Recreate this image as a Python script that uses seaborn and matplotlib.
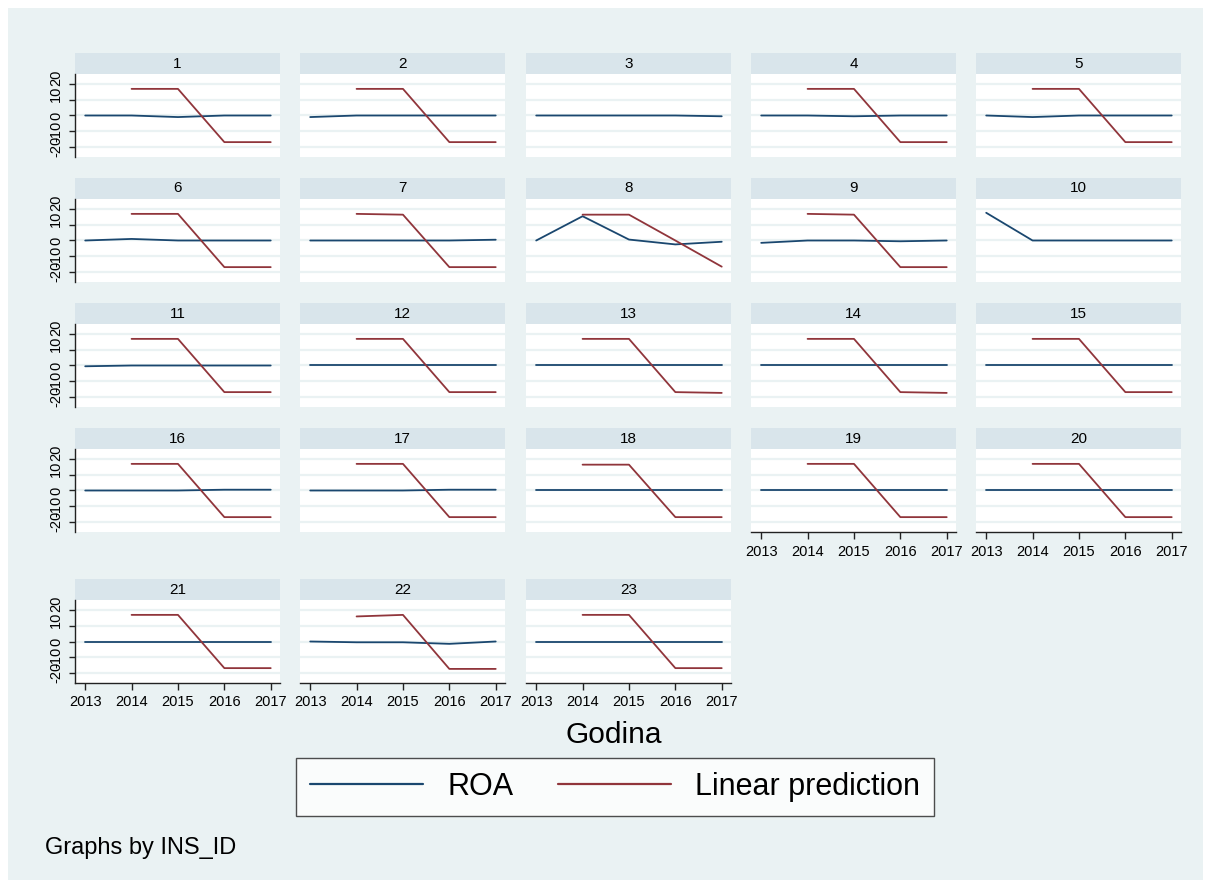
import numpy as np
import pandas as pd
import seaborn as sns
import matplotlib.pyplot as plt
from matplotlib.patches import Rectangle
from matplotlib.lines import Line2D
from matplotlib.transforms import ScaledTranslation

nan = np.nan

# Data
years = [2013, 2014, 2015, 2016, 2017]
ids = list(range(1, 24))

roa = [
    [0, 0, -1, 0, 0],          # 1
    [-1, 0, 0, 0, 0],          # 2
    [0, 0, 0, 0, -0.5],        # 3
    [0, 0, -0.5, 0, 0],        # 4
    [0, -1, 0, 0, 0],          # 5
    [0, 1, 0, 0, 0],           # 6
    [0, 0, 0, 0, 0.5],         # 7
    [0, 15.5, 0.6, -2.5, -0.8],  # 8
    [-1.5, 0, 0, -0.5, 0],     # 9
    [17.7, 0, 0, 0, 0],        # 10
    [-0.5, 0, 0, 0, 0],        # 11
    [0, 0, 0, 0, 0],           # 12
    [0, 0, 0, 0, 0],           # 13
    [0, 0, 0, 0, 0],           # 14
    [0, 0, 0, 0, 0],           # 15
    [0, 0, 0, 0.5, 0.5],       # 16
    [0, 0, 0, 0.5, 0.5],       # 17
    [0, 0, 0, 0, 0],           # 18
    [0, 0, 0, 0, 0],           # 19
    [0, 0, 0, 0, 0],           # 20
    [0, 0, 0, 0, 0],           # 21
    [0, -0.5, -0.5, -1.5, 0],  # 22
    [0, 0, 0, 0, 0],           # 23
]

pred = [
    [nan, 17, 17, -17, -17],     # 1
    [nan, 17, 17, -17, -17],     # 2
    [nan, nan, nan, nan, nan],   # 3
    [nan, 17, 17, -17, -17],     # 4
    [nan, 17, 17, -17, -17],     # 5
    [nan, 17, 17, -17, -17],     # 6
    [nan, 17, 16.5, -17, -17],   # 7
    [nan, 16.5, 16.5, 0, -16.7], # 8
    [nan, 17, 16.5, -17, -17],   # 9
    [nan, nan, nan, nan, nan],   # 10
    [nan, 17, 17, -17, -17],     # 11
    [nan, 17, 17, -17, -17],     # 12
    [nan, 17, 17, -17, -17.5],   # 13
    [nan, 17, 17, -17, -17.5],   # 14
    [nan, 17, 17, -17, -17],     # 15
    [nan, 17, 17, -17, -17],     # 16
    [nan, 17, 17, -17, -17],     # 17
    [nan, 16.5, 16.5, -17, -17], # 18
    [nan, 17, 17, -17, -17],     # 19
    [nan, 17, 17, -17, -17],     # 20
    [nan, 17, 17, -17, -17],     # 21
    [nan, 16, 17, -17.5, -17.5], # 22
    [nan, 17, 17, -17, -17],     # 23
]

series_names = ["ROA", "Linear prediction"]
yticks = [-20, -10, 0, 10, 20]

# Long format table
rows = []
for i, pid in enumerate(ids):
    for j, yr in enumerate(years):
        rows.append((pid, yr, "ROA", roa[i][j]))
        rows.append((pid, yr, "Linear prediction", pred[i][j]))
df = pd.DataFrame(rows, columns=["INS_ID", "Godina", "series", "value"]).dropna()

# Stata s2color look
bg = "#EAF2F3"
strip_col = "#D9E5EB"
palette = {"ROA": "#1A476F", "Linear prediction": "#90353B"}

sns.set_style("white")
plt.rcParams["font.family"] = ["Liberation Sans", "DejaVu Sans"]
plt.rcParams["axes.unicode_minus"] = False
plt.rcParams["text.color"] = "black"
plt.rcParams["xtick.color"] = "black"
plt.rcParams["ytick.color"] = "black"

W, H = 1211, 888
fig = plt.figure(figsize=(W / 100, H / 100), dpi=100, facecolor="white")
fig.patches.append(Rectangle((8 / W, 8 / H), 1 - 16 / W, 1 - 16 / H,
                             transform=fig.transFigure, facecolor=bg,
                             edgecolor="none", zorder=-10))

col_left = [75, 300, 526, 751, 976]
row_strip_top = [53, 178, 303, 428, 579]
pw, ph, sh = 205, 83, 21

for k, pid in enumerate(ids):
    r, c = divmod(k, 5)
    x0 = col_left[c]
    y0 = row_strip_top[r] + sh
    ax = fig.add_axes([x0 / W, 1 - (y0 + ph) / H, pw / W, ph / H])
    sub = df[df["INS_ID"] == pid]
    sns.lineplot(data=sub, x="Godina", y="value", hue="series", palette=palette,
                 hue_order=series_names, legend=False, linewidth=1.3, ax=ax,
                 errorbar=None)
    ax.set_facecolor("white")
    ax.set_xlim(2012.78, 2017.2)
    ax.set_ylim(-26.5, 26.5)
    ax.set_yticks(yticks)
    ax.set_xticks(years)
    ax.grid(axis="y", color=bg, linewidth=1.6)
    ax.grid(axis="x", visible=False)
    ax.set_axisbelow(True)
    for s in ax.spines.values():
        s.set_visible(False)
    ax.set_xlabel("")
    ax.set_ylabel("")

    # strip title
    ax.add_patch(Rectangle((0, 1), 1, sh / ph, transform=ax.transAxes,
                           facecolor=strip_col, edgecolor="none", clip_on=False))
    ax.text(0.5, 1 + sh / ph / 2, str(pid), transform=ax.transAxes,
            ha="center", va="center", fontsize=11, color="black")

    show_y = c == 0
    show_x = (r == 4) or (r == 3 and k + 5 >= len(ids))
    if show_y:
        ax.spines["left"].set_visible(True)
        ax.spines["left"].set_color("#222222")
        ax.spines["left"].set_linewidth(1.0)
        ax.tick_params(axis="y", left=True, length=4.5, width=1.0, color="#222222",
                       labelsize=10.5, pad=4, direction="out")
        # Stata draws the rotated positive labels a little above their ticks
        for tick, val in zip(ax.yaxis.get_major_ticks(), yticks):
            lab = tick.label1
            lab.set_rotation(90)
            lab.set_va("center")
            if val > 0:
                lab.set_transform(lab.get_transform() +
                                  ScaledTranslation(0, 6 / 100, fig.dpi_scale_trans))
    else:
        ax.tick_params(axis="y", left=False, labelleft=False)
    if show_x:
        ax.spines["bottom"].set_visible(True)
        ax.spines["bottom"].set_color("#222222")
        ax.spines["bottom"].set_linewidth(1.0)
        ax.tick_params(axis="x", bottom=True, length=5, width=1.0, color="#222222",
                       labelsize=10.5, pad=4, direction="out")
    else:
        ax.tick_params(axis="x", bottom=False, labelbottom=False)

fig.text(614 / W, 1 - 735 / H, "Godina", ha="center", va="center", fontsize=21.5)

handles = [Line2D([], [], color=palette[n], linewidth=1.6) for n in series_names]
leg = fig.legend(handles, series_names, loc="center",
                 bbox_to_anchor=(615 / W, 1 - 787 / H), ncol=2, fontsize=22,
                 frameon=True, fancybox=False, edgecolor="#222222",
                 handlelength=3.7, handletextpad=0.8, columnspacing=1.45,
                 borderpad=0.45, borderaxespad=0)
leg.get_frame().set_facecolor("white")
leg.get_frame().set_linewidth(1.0)

fig.text(45 / W, 1 - 848 / H, "Graphs by INS_ID", ha="left", va="center", fontsize=17)

fig.savefig("out.png", dpi=100, facecolor="white")
